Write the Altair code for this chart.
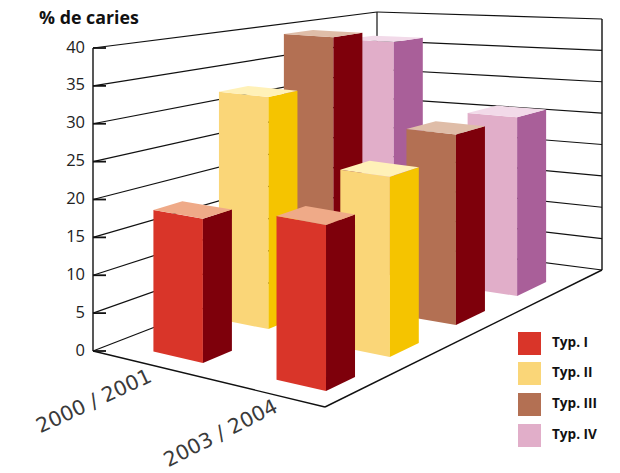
import altair as alt
import numpy as np
import pandas as pd

# Chart content
categories = ["2000 / 2001", "2003 / 2004"]
series = ["Typ. I", "Typ. II", "Typ. III", "Typ. IV"]
values_2000 = [18.7, 32.0, 38.7, 36.6]
values_2003 = [20.7, 23.7, 26.6, 26.6]
ticks = [0, 5, 10, 15, 20, 25, 30, 35, 40]
y_title = "% de caries"

front_colors = ["#D93529", "#FAD678", "#B37053", "#E1AEC9"]
side_colors = ["#7E000B", "#F5C400", "#7E000B", "#A95F99"]
top_colors = ["#EFAA88", "#FFF1B8", "#DFBDA8", "#F2DAE9"]

W, H = 620, 473

# Floor corners of the 3D box: near-left, near-bottom, far-right, far-back
floor = np.array([[93, 351], [325, 407], [602, 270], [377, 241]], float)
# Screen pixels per percentage point at those four corners
unit = np.array([7.575, 8.2, 6.275, 5.725])
# Floor position of each bar's nearest corner, per category then series
bar_corner_uv = [
    [(0.419, 0.0635), (0.375, 0.298), (0.370, 0.525), (0.370, 0.753)],
    [(0.921, 0.0651), (0.903, 0.279), (0.902, 0.509), (0.904, 0.742)],
]
# Horizontal extent of a bar's front and side faces
FRONT_W, SIDE_W = 49.5, 29


def homography(q):
    (x0, y0), (x1, y1), (x2, y2), (x3, y3) = q
    dx1, dx2, sx = x1 - x2, x3 - x2, x0 - x1 + x2 - x3
    dy1, dy2, sy = y1 - y2, y3 - y2, y0 - y1 + y2 - y3
    den = dx1 * dy2 - dx2 * dy1
    g = (sx * dy2 - dx2 * sy) / den
    h = (dx1 * sy - sx * dy1) / den
    return (x1 - x0 + g * x1, x3 - x0 + h * x3, x0,
            y1 - y0 + g * y1, y3 - y0 + h * y3, y0, g, h)


HM = homography(floor)


def project(u, v, t=0.0):
    a, b, c, d, e, f, g, h = HM
    w = g * u + h * v + 1
    x = (a * u + b * v + c) / w
    y = (d * u + e * v + f) / w
    s = (unit[0] * (1 - u) * (1 - v) + unit[1] * u * (1 - v)
         + unit[2] * u * v + unit[3] * (1 - u) * v)
    return float(x), float(y - t * s)


def u_at(screen_x, v):
    a, b, c, d, e, f, g, h = HM
    return (screen_x * (h * v + 1) - b * v - c) / (a - screen_x * g)


def v_at(screen_x, u):
    a, b, c, d, e, f, g, h = HM
    return (screen_x * (g * u + 1) - a * u - c) / (b - screen_x * h)


def area_rows(pts):
    """Turn a convex polygon into upper and lower area boundaries."""
    rows = []
    n = len(pts)
    for x in sorted({p[0] for p in pts}):
        ys = []
        for i in range(n):
            (x0, y0), (x1, y1) = pts[i], pts[(i + 1) % n]
            lo, hi = min(x0, x1), max(x0, x1)
            if lo <= x <= hi:
                if x0 == x1:
                    ys += [y0, y1]
                else:
                    ys.append(y0 + (y1 - y0) * (x - x0) / (x1 - x0))
        rows.append(dict(x=x, top=min(ys), bottom=max(ys)))
    return pd.DataFrame(rows)


x_scale = alt.Scale(domain=[0, W], range=[0, W], nice=False, zero=False)
y_scale = alt.Scale(domain=[0, H], range=[0, H], nice=False, zero=False)
X = alt.X("x:Q", axis=None, scale=x_scale)
Y = alt.Y("y:Q", axis=None, scale=y_scale)


def face(pts, color):
    return alt.Chart(area_rows(pts)).mark_area(fill=color, interpolate="linear").encode(
        x=X,
        y=alt.Y("top:Q", axis=None, scale=y_scale, stack=False),
        y2="bottom:Q",
    )


all_values = [values_2000, values_2003]

# Bars are painted back to front
bars = []
for ci in range(len(categories)):
    for si in reversed(range(len(series))):
        uc, vc = bar_corner_uv[ci][si]
        xc = project(uc, vc)[0]
        u0 = u_at(xc - FRONT_W, vc)
        v1 = v_at(xc + SIDE_W, uc)
        val = all_values[ci][si]
        a_b, b_b, c_b = project(u0, vc), project(uc, vc), project(uc, v1)
        a_t, b_t, c_t, d_t = (project(u0, vc, val), project(uc, vc, val),
                              project(uc, v1, val), project(u0, v1, val))
        bars.append(face([a_b, b_b, b_t, a_t], front_colors[si]))
        bars.append(face([b_b, c_b, c_t, b_t], side_colors[si]))
        bars.append(face([a_t, b_t, c_t, d_t], top_colors[si]))

# Wall grid, box outline and axis stubs
segments = []


def seg(p, q, w=1.2):
    segments.append(dict(x=p[0], y=p[1], x2=q[0], y2=q[1], w=w))


for t in ticks:
    seg(project(0, 0, t), project(0, 1, t))
    seg(project(0, 1, t), project(1, 1, t))
top = max(ticks)
seg(project(0, 0), project(0, 0, top), 1.4)
seg(project(0, 1), project(0, 1, top))
seg(project(1, 1), project(1, 1, top), 1.4)
seg(project(0, 0), project(1, 0), 1.4)
seg(project(1, 0), project(1, 1), 1.4)
segments = pd.DataFrame(segments)

stubs = pd.DataFrame([
    dict(x=project(0, 0, t)[0], x2=project(0, 0, t)[0] + 13, y=project(0, 0, t)[1])
    for t in ticks
])

tick_labels = pd.DataFrame([
    dict(x=project(0, 0, t)[0] - 8, y=project(0, 0, t)[1] - 0.5, label=str(t)) for t in ticks
])

cat_labels = pd.DataFrame([
    dict(x=153, y=381, label=categories[0], rot=335),
    dict(x=279, y=411, label=categories[1], rot=333),
])

legend_top = [332, 362, 393, 424]
legend = pd.DataFrame(dict(
    x=[518] * 4, x2=[541] * 4,
    y=legend_top, y2=[t + 23 for t in legend_top],
    yt=[t + 11 for t in legend_top],
    xt=[552] * 4, label=series, color=front_colors,
))

grid = alt.Chart(segments).mark_rule(color="#111111").encode(
    x=X, y=Y, x2="x2:Q", y2="y2:Q",
    strokeWidth=alt.StrokeWidth("w:Q", scale=None),
)
stub_layer = alt.Chart(stubs).mark_rule(color="#111111", strokeWidth=1.8).encode(x=X, x2="x2:Q", y=Y)

tick_text = alt.Chart(tick_labels).mark_text(
    font="Open Sans", fontSize=16.5, align="right", baseline="middle", color="#222222"
).encode(x=X, y=Y, text="label:N")

cat_text = alt.Chart(cat_labels).mark_text(
    font="DejaVu Sans", fontSize=20.5, align="right", baseline="alphabetic", color="#3a3a3a"
).encode(x=X, y=Y, text="label:N", angle=alt.Angle("rot:Q", scale=None))

title_text = alt.Chart(pd.DataFrame(dict(x=[39], y=[24], label=[y_title]))).mark_text(
    font="Open Sans", fontSize=17.8, fontWeight="bold", align="left", baseline="alphabetic", color="#111111"
).encode(x=X, y=Y, text="label:N")

legend_marks = alt.Chart(legend).mark_rect().encode(
    x=X, x2="x2:Q", y=Y, y2="y2:Q", fill=alt.Fill("color:N", scale=None)
)
legend_text = alt.Chart(legend).mark_text(
    font="Open Sans", fontSize=13.6, fontWeight="bold", align="left", baseline="middle", color="#111111"
).encode(x=alt.X("xt:Q", axis=None, scale=x_scale), y=alt.Y("yt:Q", axis=None, scale=y_scale), text="label:N")

chart = alt.layer(
    grid, stub_layer, *bars, tick_text, cat_text, title_text, legend_marks, legend_text
).properties(
    width=W, height=H, padding=0, autosize=alt.AutoSizeParams(type="none")
).configure_view(stroke=None)

chart.save("out.html", embed_options={"renderer": "svg", "actions": False})
